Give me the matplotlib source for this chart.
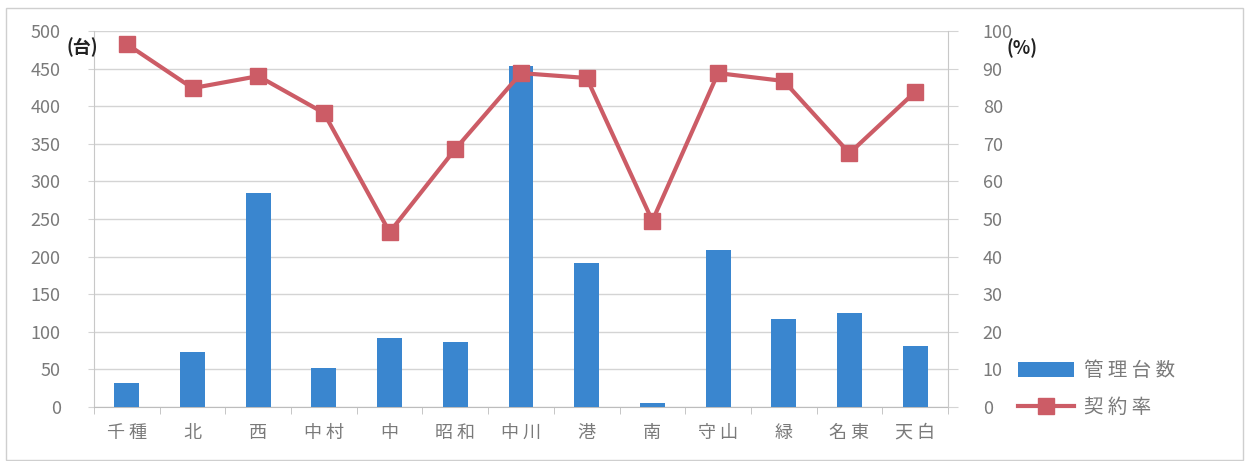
import matplotlib
matplotlib.use("Agg")
import matplotlib.pyplot as plt
from matplotlib.patches import Rectangle
import numpy as np

plt.rcParams['font.family'] = ['Noto Sans CJK JP', 'DejaVu Sans']

categories = ['千種', '北', '西', '中村', '中', '昭和', '中川', '港', '南', '守山', '緑', '名東', '天白']
category_labels = ['千 種', '北', '西', '中 村', '中', '昭 和', '中 川', '港', '南', '守 山', '緑', '名 東', '天 白']
units_managed = [32, 73, 285, 52, 92, 86, 453, 191, 5, 209, 117, 125, 81]
contract_rate = [96.5, 84.8, 88.0, 78.2, 46.5, 68.6, 88.8, 87.5, 49.5, 88.8, 86.7, 67.5, 83.8]
left_ticks = [0, 50, 100, 150, 200, 250, 300, 350, 400, 450, 500]
right_ticks = [0, 10, 20, 30, 40, 50, 60, 70, 80, 90, 100]

BLUE = '#3a86cf'
RED = '#cc5c66'
GRAY = '#7a7a7a'
GRID = '#d4d4d4'

W, H = 1247, 461
fig = plt.figure(figsize=(W / 100, H / 100), dpi=100)
fig.patch.set_facecolor('white')

x0, x1 = 94, 948
y0, y1 = 407, 31
ax = fig.add_axes([x0 / W, 1 - y0 / H, (x1 - x0) / W, (y0 - y1) / H])
ax2 = ax.twinx()

x = np.arange(len(categories))
ax.bar(x, units_managed, width=0.38, color=BLUE, zorder=3, label='管 理 台 数')
ax.set_xlim(-0.5, len(categories) - 0.5)
ax.set_ylim(0, 500)
ax.set_yticks(left_ticks)
ax.set_yticklabels([str(t) for t in left_ticks])
ax.grid(axis='y', color=GRID, linewidth=1, zorder=0)
ax.set_axisbelow(True)

ax.set_xticks(x)
ax.set_xticklabels(category_labels)
ax.set_xticks(np.arange(-0.5, len(categories) + 0.5, 1), minor=True)
ax.tick_params(axis='x', which='major', length=0, pad=12, labelsize=13, labelcolor=GRAY)
ax.tick_params(axis='x', which='minor', length=5, color='#bdbdbd', direction='out')
ax.tick_params(axis='y', length=4, color=GRID, pad=20, labelsize=13, labelcolor=GRAY)

for side in ['top', 'right']:
    ax.spines[side].set_visible(False)
ax.spines['left'].set_color('#c8c8c8')
ax.spines['bottom'].set_color('#bdbdbd')

ax2.plot(x, contract_rate, color=RED, linewidth=3, marker='s', markersize=11,
         markerfacecolor=RED, markeredgecolor=RED, zorder=5, label='契 約 率')
ax2.set_ylim(0, 100)
ax2.set_yticks(right_ticks)
ax2.set_yticklabels([str(t) for t in right_ticks])
ax2.tick_params(axis='y', length=7, color=GRID, pad=18, labelsize=13, labelcolor=GRAY)
for side in ['top', 'left', 'bottom']:
    ax2.spines[side].set_visible(False)
ax2.spines['right'].set_color('#c8c8c8')

# unit labels
fig.text(66 / W, 1 - 47 / H, '(台)', fontsize=13, fontweight='bold', color='#222222',
         ha='left', va='center')
fig.text(1007 / W, 1 - 48 / H, '(%)', fontsize=13, fontweight='bold', color='#222222',
         ha='left', va='center')

# legend
h1, l1 = ax.get_legend_handles_labels()
h2, l2 = ax2.get_legend_handles_labels()
leg = fig.legend(h1 + h2, l1 + l2, loc='center left',
                 bbox_to_anchor=(1000 / W, 1 - 389 / H), frameon=False,
                 fontsize=14, handlelength=2.9, handleheight=0.75,
                 labelspacing=0.8, handletextpad=0.5, labelcolor=GRAY)

# outer chart border
fig.add_artist(Rectangle((6 / W, 1 - 460 / H), (1243 - 6) / W, (460 - 8) / H,
                         transform=fig.transFigure, fill=False,
                         edgecolor='#cfcfcf', linewidth=1))

fig.savefig('out.png', dpi=100, facecolor='white')
